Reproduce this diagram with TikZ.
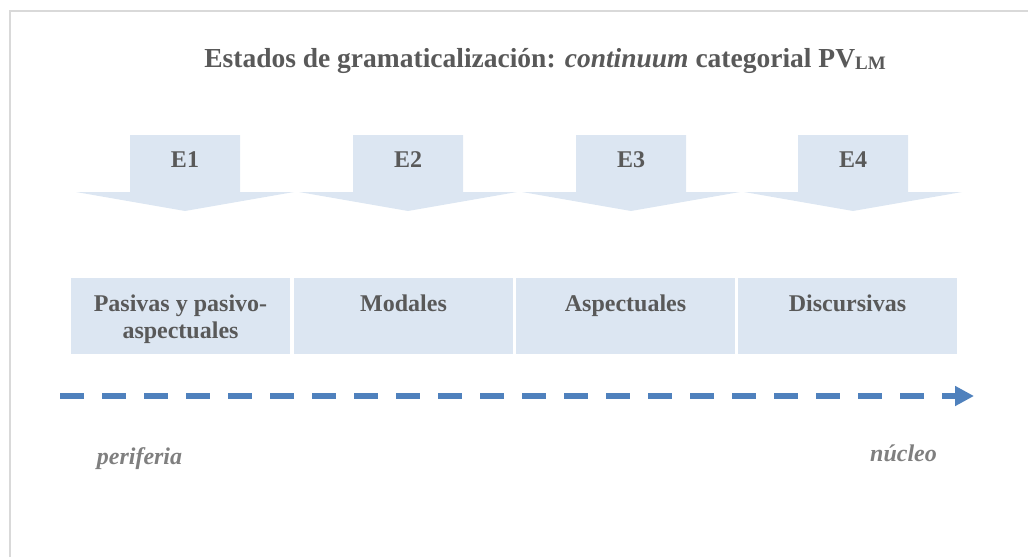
\documentclass[tikz,border=0pt]{standalone}
\usepackage{fontspec}
\setmainfont{Liberation Serif}
\usetikzlibrary{arrows.meta}
\definecolor{frameg}{HTML}{D9D9D9}
\definecolor{paleblue}{HTML}{DCE6F2}
\definecolor{txtgray}{HTML}{595959}
\definecolor{ltgray}{HTML}{7F7F7F}
\definecolor{lineblue}{HTML}{4F81BD}
\tikzset{
  bigtxt/.style={font=\fontsize{24}{28}\selectfont\bfseries, text=txtgray},
  titletxt/.style={font=\fontsize{27.5}{32}\selectfont\bfseries, text=txtgray, inner sep=0pt},
  catbox/.style={fill=paleblue, draw=none, minimum width=219pt, minimum height=76pt, inner sep=0pt},
  boxlabel/.style={bigtxt, align=center, anchor=north, inner sep=0pt},
  estlabel/.style={bigtxt, inner sep=0pt},
  endlabel/.style={font=\fontsize{24}{28}\selectfont\bfseries\itshape, text=ltgray, inner sep=0pt},
  downarrow/.pic={
    \fill[paleblue] (-55,135) -- (55,135) -- (55,192) -- (109,192) -- (0,211) -- (-109,192) -- (-55,192) -- cycle;
  },
  progress/.style={draw=lineblue, line width=5.5pt, dash pattern=on 24pt off 18pt,
    -{Triangle[length=19pt,width=19pt]}}
}
\begin{document}
\begin{tikzpicture}[x=1pt,y=-1pt]
\useasboundingbox (0,0) rectangle (1028,557);
% frame
\draw[frameg, line width=1.5pt] (10,557) -- (10,11) -- (1028,11);
% title
\node[titletxt] (title) at (545,61) {Estados de gramaticalización: \textit{continuum} categorial PV\raisebox{-2pt}{\fontsize{19}{19}\selectfont LM}};
% block arrows
\foreach \cx/\lab [count=\i] in {185/E1,408/E2,631/E3,853/E4}{
  \pic at (\cx,0) {downarrow};
  \node[estlabel] (e\i) at (\cx,160) {\lab};
}
% category boxes
\node[catbox] (b1) at (180.5,316) {};
\node[catbox] (b2) at (403.5,316) {};
\node[catbox] (b3) at (625.5,316) {};
\node[catbox] (b4) at (847.5,316) {};
\node[boxlabel, font=\fontsize{24}{27}\selectfont\bfseries] (l1) at (180.5,295) {Pasivas y pasivo-\\aspectuales};
\node[boxlabel] (l2) at (403.5,295) {Modales};
\node[boxlabel] (l3) at (625.5,295) {Aspectuales};
\node[boxlabel] (l4) at (847.5,295) {Discursivas};
% continuum arrow
\coordinate (start) at (60,396);
\coordinate (end) at (974,396);
\draw[progress] (start) -- (end);
\node[endlabel] (per) at (139.5,459) {periferia};
\node[endlabel] (nuc) at (903.5,453) {núcleo};
\end{tikzpicture}
\end{document}
